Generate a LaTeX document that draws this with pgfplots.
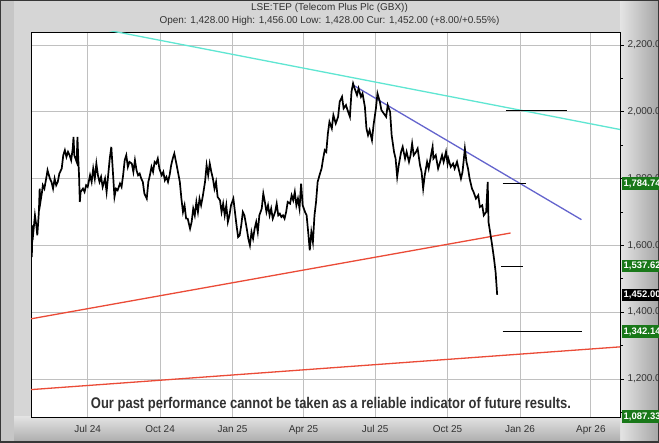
\documentclass[border=0pt]{standalone}
\usepackage{fontspec}
\setmainfont{Liberation Sans}
\usepackage{graphicx}
\usepackage{pgfplots}
\pgfplotsset{compat=1.18}
\definecolor{framebg}{RGB}{214,214,214}
\definecolor{leftstrip}{RGB}{198,198,198}
\definecolor{edgecol}{RGB}{55,55,55}
\definecolor{labelgray}{RGB}{50,50,50}
\definecolor{gridgray}{RGB}{192,192,192}
\definecolor{trendcyan}{RGB}{95,230,210}
\definecolor{trendblue}{RGB}{100,100,205}
\definecolor{trendred}{RGB}{235,75,55}
\definecolor{boxgreen}{RGB}{25,120,25}

\begin{document}
\begin{tikzpicture}[x=1bp,y=1bp]
\fill[framebg] (-31,-26) rectangle (628,417);
\fill[leftstrip] (-31,-26) rectangle (-17,417);
\shade[left color={rgb,255:red,228;green,228;blue,228}, right color={rgb,255:red,165;green,165;blue,165}] (589,-26) rectangle (628,417);
\shade[top color={rgb,255:red,226;green,226;blue,226}, bottom color={rgb,255:red,170;green,170;blue,170}] (-17,-26) rectangle (589,0);
\draw[line width=1.5bp, edgecol] (-30.25,-25.25) rectangle (627.25,416.25);
\begin{axis}[
  at={(0,0)}, anchor=south west,
  scale only axis, width=589bp, height=385bp,
  xmin=-72, xmax=676, ymin=1086, ymax=2239,
  axis background/.style={fill=white},
  axis line style={black, line width=0.8bp},
  xtick={0,92,184,274,365,457,549,639},
  xticklabels={Jul 24,Oct 24,Jan 25,Apr 25,Jul 25,Oct 25,Jan 26,Apr 26},
  x tick style={draw=none},
  ytick={1200,1400,1600,1800,2000,2200},
  minor ytick={1100,1300,1500,1700,1900,2100},
  ytick pos=right, yticklabel pos=right,
  y tick style={black, line width=0.6bp},
  tick align=outside, major tick length=4bp, minor tick length=3bp,
  grid=major,
  major grid style={line width=0.8bp, gridgray},
  ticklabel style={font=\fontsize{10}{12}\selectfont, text=labelgray},
  yticklabel style={/pgf/number format/fixed, /pgf/number format/fixed zerofill,
    /pgf/number format/precision=2, /pgf/number format/1000 sep={,},
    /pgf/number format/assume math mode=true},
  xticklabel style={yshift=-1bp},
  clip mode=individual,
]
% trend lines
\addplot[trendcyan, line width=1.3bp] coordinates {(-72,2289) (676,1947)};
\addplot[trendblue, line width=1.3bp] coordinates {(337,2080) (627,1677)};
\addplot[trendred, line width=1.3bp] coordinates {(-72,1380) (537,1637)};
\addplot[trendred, line width=1.3bp] coordinates {(-72,1168) (676,1296)};
% target levels
\addplot[black, line width=1bp] coordinates {(531,2004) (609,2004)};
\addplot[black, line width=1bp] coordinates {(527,1784.74) (556,1784.74)};
\addplot[black, line width=1bp] coordinates {(525,1537.62) (553,1537.62)};
\addplot[black, line width=1bp] coordinates {(527,1342.14) (628,1342.14)};
% price
\addplot[black, line width=1.7bp, line join=miter] coordinates {
(-71,1565) (-70,1660) (-69,1640) (-67,1690) (-65,1655) (-64,1630) (-62,1700) (-61,1770)
(-60,1730) (-58,1760) (-57,1780) (-55,1770) (-52,1810) (-51,1825) (-48,1800) (-46,1790)
(-44,1770) (-42,1800) (-40,1780) (-38,1790) (-36,1815) (-33,1830) (-31,1870) (-29,1885)
(-27,1865) (-25,1880) (-23,1870) (-21,1855) (-19,1890) (-18,1925) (-17,1870) (-14,1850)
(-13,1925) (-12,1860) (-11,1810) (-10,1730) (-9,1760) (-6,1770) (-4,1760) (-2,1780)
(0,1775) (3,1810) (5,1790) (7,1830) (9,1800) (11,1845) (13,1810) (15,1790)
(17,1805) (19,1775) (22,1800) (24,1760) (26,1810) (28,1860) (30,1895) (32,1820)
(34,1745) (36,1770) (38,1765) (41,1785) (43,1775) (45,1810) (47,1855) (49,1870)
(51,1835) (53,1850) (56,1845) (58,1820) (60,1855) (62,1825) (64,1810) (66,1815)
(68,1800) (70,1790) (72,1755) (75,1740) (77,1790) (79,1810) (81,1835) (83,1820)
(85,1850) (87,1845) (89,1860) (91,1830) (94,1810) (96,1820) (98,1795) (100,1805)
(102,1790) (104,1810) (106,1840) (108,1860) (110,1875) (113,1840) (115,1815) (117,1790)
(119,1740) (121,1700) (123,1720) (125,1680) (127,1680) (130,1650) (132,1670) (134,1710)
(136,1690) (138,1730) (140,1700) (142,1740) (144,1720) (146,1745) (149,1790) (151,1840)
(153,1810) (155,1845) (157,1820) (159,1800) (161,1770) (163,1790) (165,1745) (168,1735)
(170,1700) (172,1725) (174,1690) (176,1720) (178,1670) (180,1690) (182,1720) (185,1740)
(187,1700) (189,1660) (191,1625) (193,1630) (195,1660) (197,1700) (199,1690) (202,1650)
(204,1620) (206,1600) (208,1640) (210,1620) (212,1650) (214,1670) (216,1640) (218,1690)
(221,1710) (223,1755) (225,1730) (227,1700) (229,1720) (231,1690) (233,1710) (235,1680)
(238,1700) (240,1725) (242,1690) (244,1695) (246,1685) (248,1690) (250,1680) (252,1700)
(254,1730) (257,1725) (259,1750) (261,1735) (263,1760) (265,1720) (267,1740) (269,1710)
(271,1785) (273,1720) (276,1700) (278,1690) (280,1640) (282,1585) (284,1640) (286,1610)
(288,1690) (290,1730) (292,1790) (295,1815) (297,1830) (299,1860) (301,1885) (303,1880)
(305,1935) (307,1970) (310,1950) (312,1990) (315,1965) (318,1985) (320,2030) (323,2045)
(325,2010) (328,2020) (330,2005) (333,1985) (335,2060) (337,2085) (339,2070) (342,2050)
(344,2070) (347,2045) (349,2055) (352,2015) (354,1950) (356,1930) (358,1945) (361,1915)
(363,1960) (366,2010) (368,2055) (371,2030) (373,2005) (376,1995) (379,1985) (381,2020)
(384,2000) (386,1930) (389,1880) (391,1860) (393,1805) (395,1840) (398,1880) (400,1895)
(403,1860) (405,1880) (408,1850) (410,1870) (412,1905) (414,1870) (417,1880) (419,1890)
(422,1840) (424,1820) (426,1770) (428,1810) (431,1850) (433,1830) (436,1870) (438,1895)
(439,1860) (442,1870) (445,1830) (447,1845) (450,1870) (452,1850) (455,1880) (457,1845)
(458,1860) (461,1835) (464,1845) (466,1830) (469,1850) (471,1830) (474,1800) (476,1820)
(479,1890) (481,1850) (483,1830) (485,1800) (488,1770) (490,1760) (493,1740) (496,1750)
(498,1715) (501,1720) (503,1690) (506,1700) (508,1790) (509,1670) (511,1640) (513,1610)
(516,1560) (518,1520) (520,1452)
};
% value boxes on the right
\node[anchor=west, fill=boxgreen, text=white, font=\bfseries\fontsize{9.5}{11}\selectfont, inner xsep=1.5bp, inner ysep=2.2bp, xshift=2bp] at (axis cs:676,1784.74) {1,784.74};
\node[anchor=west, fill=boxgreen, text=white, font=\bfseries\fontsize{9.5}{11}\selectfont, inner xsep=1.5bp, inner ysep=2.2bp, xshift=2bp] at (axis cs:676,1537.62) {1,537.62};
\node[anchor=west, fill=black, text=white, font=\bfseries\fontsize{9.5}{11}\selectfont, inner xsep=1.5bp, inner ysep=2.2bp, xshift=2bp] at (axis cs:676,1452) {1,452.00};
\node[anchor=west, fill=boxgreen, text=white, font=\bfseries\fontsize{9.5}{11}\selectfont, inner xsep=1.5bp, inner ysep=2.2bp, xshift=2bp] at (axis cs:676,1342.14) {1,342.14};
\node[anchor=west, fill=boxgreen, text=white, font=\bfseries\fontsize{9.5}{11}\selectfont, inner xsep=1.5bp, inner ysep=2.2bp, xshift=2bp] at (axis cs:676,1087.33) {1,087.33};
\end{axis}
\node[font=\fontsize{10}{12}\selectfont, text=labelgray] at (298.5,409) {LSE:TEP (Telecom Plus Plc (GBX))};
\node[font=\fontsize{10}{12}\selectfont, text=labelgray] at (298.5,396) {Open: 1,428.00 High: 1,456.00 Low: 1,428.00 Cur: 1,452.00 (+8.00/+0.55\%)};
\node[font=\bfseries\fontsize{15.5}{17}\selectfont, text=labelgray] at (300,12) {\scalebox{0.84}[1]{Our past performance cannot be taken as a reliable indicator of future results.}};
\pgfresetboundingbox
\useasboundingbox (-31,-26) rectangle (628,417);
\end{tikzpicture}
\end{document}
